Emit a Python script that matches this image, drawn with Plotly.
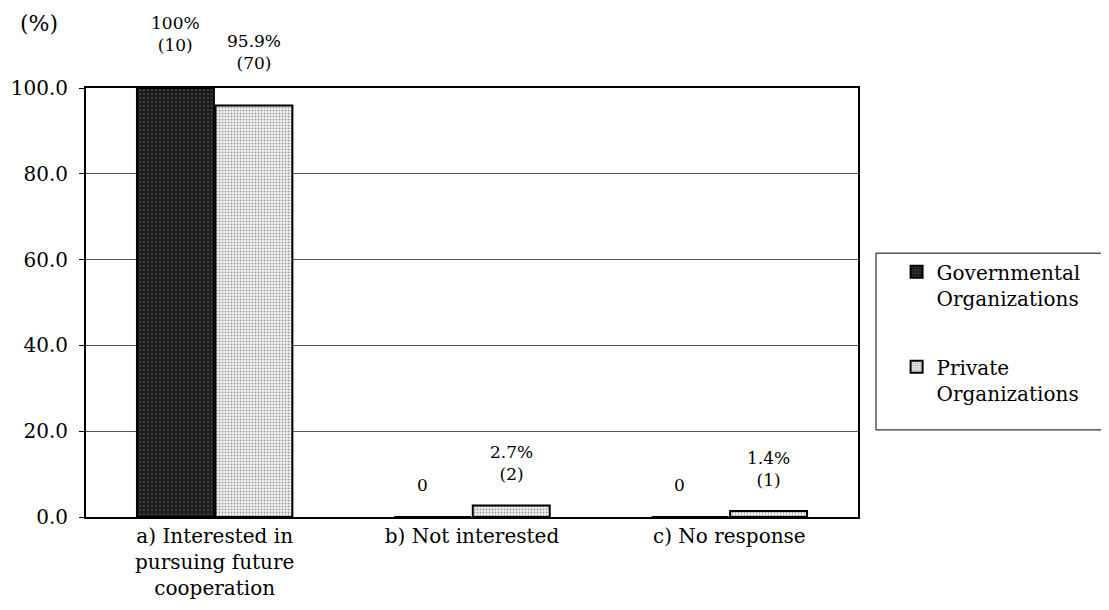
import plotly.graph_objects as go

# Survey responses: interest in future cooperation
categories = [
    "a) Interested in<br>pursuing future<br>cooperation",
    "b) Not interested",
    "c) No response",
]
gov_pct = [100.0, 0.0, 0.0]
gov_count = [10, 0, 0]
priv_pct = [95.9, 2.7, 1.4]
priv_count = [70, 2, 1]
y_ticks = [0, 20, 40, 60, 80, 100]

FONT = "DejaVu Serif"

fig = go.Figure()

fig.add_trace(go.Bar(
    x=categories,
    y=gov_pct,
    name="Governmental<br>Organizations",
    legendgroup="gov",
    marker=dict(
        color="#1c1c1c",
        line=dict(color="black", width=2),
        pattern=dict(shape=".", fgcolor="#9a9a9a", bgcolor="#1c1c1c", size=4, solidity=0.15),
    ),
))

fig.add_trace(go.Bar(
    x=categories,
    y=priv_pct,
    name="Private<br>Organizations",
    legendgroup="priv",
    marker=dict(
        color="white",
        line=dict(color="black", width=2),
        pattern=dict(shape=".", fgcolor="#4a4a4a", bgcolor="#f2f2f2", size=3, solidity=0.35),
    ),
))

# value labels above the bars
bar_half = 39
label_font = dict(family=FONT, size=17, color="black")
for cat, pct, n in zip(categories, gov_pct, gov_count):
    if pct == 0:
        fig.add_annotation(x=cat, y=pct, text="0", showarrow=False, xshift=-50,
                           yanchor="bottom", yshift=20, font=label_font)
    else:
        fig.add_annotation(x=cat, y=pct, text=f"{pct:g}%<br>({n})", showarrow=False,
                           xshift=-bar_half, yanchor="bottom", yshift=31, font=label_font)
for cat, pct, n in zip(categories, priv_pct, priv_count):
    fig.add_annotation(x=cat, y=pct, text=f"{pct:g}%<br>({n})", showarrow=False, xshift=bar_half,
                       yanchor="bottom", yshift=19 if pct < 10 else 31, font=label_font)

fig.add_annotation(x=-0.088, y=1.151, xref="paper", yref="paper", text="(%)", showarrow=False,
                   xanchor="left", yanchor="middle", font=dict(family=FONT, size=22, color="black"))

# legend frame (runs off the right edge as in the original)
fig.add_shape(type="rect", xref="paper", yref="paper", x0=1.0233, x1=1.40, y0=0.203, y1=0.615,
              line=dict(color="black", width=1), fillcolor="rgba(0,0,0,0)")

fig.update_layout(
    width=1101,
    height=602,
    margin=dict(l=78, r=251, t=80, b=93, autoexpand=False),
    paper_bgcolor="white",
    plot_bgcolor="white",
    barmode="group",
    bargap=0.39,
    bargroupgap=0.02,
    font=dict(family=FONT, color="black"),
    showlegend=True,
    legend=dict(
        x=1.05, y=0.617, xanchor="left", yanchor="top",
        borderwidth=0, bgcolor="rgba(0,0,0,0)",
        font=dict(family=FONT, size=20, color="black"),
        tracegroupgap=40,
        valign="top",
        itemwidth=30,
    ),
    xaxis=dict(
        showline=True, linecolor="black", linewidth=2, mirror=True,
        tickfont=dict(family=FONT, size=20, color="black"),
        ticks="",
    ),
    yaxis=dict(
        range=[0, 100],
        tickvals=y_ticks,
        ticktext=[f"{v:.1f}" for v in y_ticks],
        showline=True, linecolor="black", linewidth=2, mirror=True,
        showgrid=True, gridcolor="#555555", gridwidth=1,
        ticks="outside", ticklen=5, tickcolor="black",
        ticklabelstandoff=7,
        tickfont=dict(family=FONT, size=20, color="black"),
    ),
)

fig.write_html("out.html")
